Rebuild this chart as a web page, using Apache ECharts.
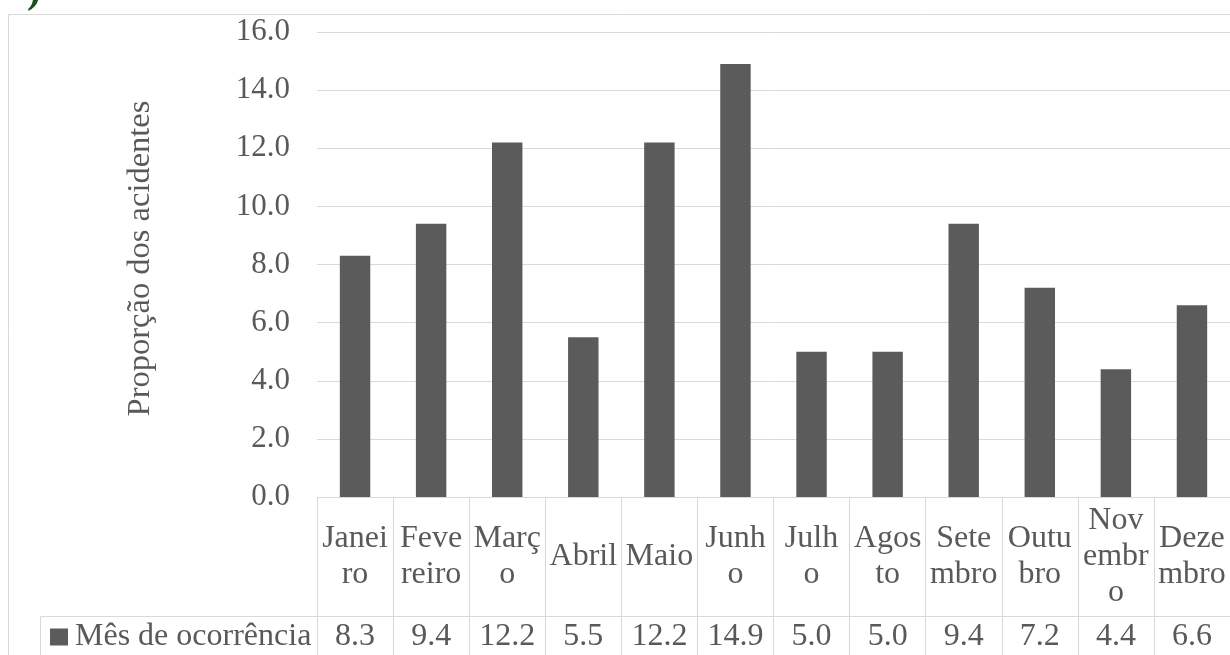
<!DOCTYPE html>
<html>
<head>
<meta charset="utf-8">
<script src="https://cdn.jsdelivr.net/npm/echarts@6/dist/echarts.min.js"></script>
<style>
html,body{margin:0;padding:0;background:#fff;}
#chart{width:1230px;height:655px;}
</style>
</head>
<body>
<div id="chart"></div>
<script>
const categories = ['Janeiro','Fevereiro','Março','Abril','Maio','Junho','Julho','Agosto','Setembro','Outubro','Novembro','Dezembro'];
const categoryLabels = ['Janei\nro','Feve\nreiro','Març\no','Abril','Maio','Junh\no','Julh\no','Agos\nto','Sete\nmbro','Outu\nbro','Nov\nembr\no','Deze\nmbro'];
const seriesName = 'Mês de ocorrência';
const values = [8.3, 9.4, 12.2, 5.5, 12.2, 14.9, 5.0, 5.0, 9.4, 7.2, 4.4, 6.6];
const yTicks = {min: 0, max: 16, interval: 2};
const yTitle = 'Proporção dos acidentes';

const FONT = '"Liberation Serif", "Times New Roman", serif';
const TXT = '#595959';
const LINE = '#d9d9d9';
const FS = 32;

const chart = echarts.init(document.getElementById('chart'), null, {renderer: 'canvas'});
const GL = 317, GT = 32, GH = 465, GW = 916;
const ROW1 = 119;

chart.setOption({
  animation: false,
  backgroundColor: '#fff',
  textStyle: {fontFamily: FONT},
  grid: {left: GL, top: GT, width: GW, height: GH, containLabel: false},
  legend: {
    data: [seriesName],
    left: 50, top: 621,
    padding: 0,
    icon: 'rect',
    itemWidth: 18, itemHeight: 17,
    itemGap: 5,
    selectedMode: false,
    textStyle: {fontFamily: FONT, fontSize: FS, color: TXT, padding: [0,0,0,2]}
  },
  xAxis: [{
    type: 'category',
    data: categories,
    boundaryGap: true,
    axisLine: {show: true, lineStyle: {color: LINE, width: 1}},
    axisTick: {show: true, interval: 0, length: 170, lineStyle: {color: LINE, width: 1}},
    axisLabel: {
      interval: 0,
      margin: ROW1 / 2,
      verticalAlign: 'middle',
      fontFamily: FONT, fontSize: FS, color: TXT, lineHeight: 36,
      formatter: (v, i) => categoryLabels[i]
    },
    splitLine: {show: false}
  }, {
    type: 'category',
    data: categories,
    position: 'bottom',
    offset: ROW1,
    boundaryGap: true,
    axisLine: {show: true, lineStyle: {color: LINE, width: 1}},
    axisTick: {show: false},
    axisLabel: {
      interval: 0,
      margin: 21,
      verticalAlign: 'middle',
      fontFamily: FONT, fontSize: FS, color: TXT,
      formatter: (v, i) => values[i].toFixed(1)
    }
  }],
  yAxis: {
    type: 'value',
    min: yTicks.min, max: yTicks.max, interval: yTicks.interval,
    name: yTitle,
    nameLocation: 'middle',
    nameRotate: 90,
    nameGap: 160,
    nameTextStyle: {fontFamily: FONT, fontSize: 32.5, color: TXT, padding: [0, 0, 0, 12]},
    axisLine: {show: false},
    axisTick: {show: false},
    axisLabel: {margin: 27, fontFamily: FONT, fontSize: 31, color: TXT, formatter: v => v.toFixed(1)},
    splitLine: {lineStyle: {color: LINE, width: 1}}
  },
  series: [{
    name: seriesName,
    type: 'bar',
    data: values,
    barWidth: '40%',
    itemStyle: {color: '#5b5b5b'},
    emphasis: {disabled: true}
  }],
  graphic: [
    {type: 'rect', shape: {x: 8.5, y: 14.5, width: 1300, height: 800}, style: {fill: 'none', stroke: LINE, lineWidth: 1}, silent: true, z: -10},
    {type: 'line', shape: {x1: 40.5, y1: 616.5, x2: GL, y2: 616.5}, style: {stroke: LINE, lineWidth: 1}, silent: true},
    {type: 'line', shape: {x1: 40.5, y1: 616.5, x2: 40.5, y2: 660}, style: {stroke: LINE, lineWidth: 1}, silent: true},
    {type: 'text', x: 27, y: -30, style: {text: ')', font: 'bold 42px ' + FONT, fill: '#1d4f1d'}, silent: true}
  ]
});
</script>
</body>
</html>
